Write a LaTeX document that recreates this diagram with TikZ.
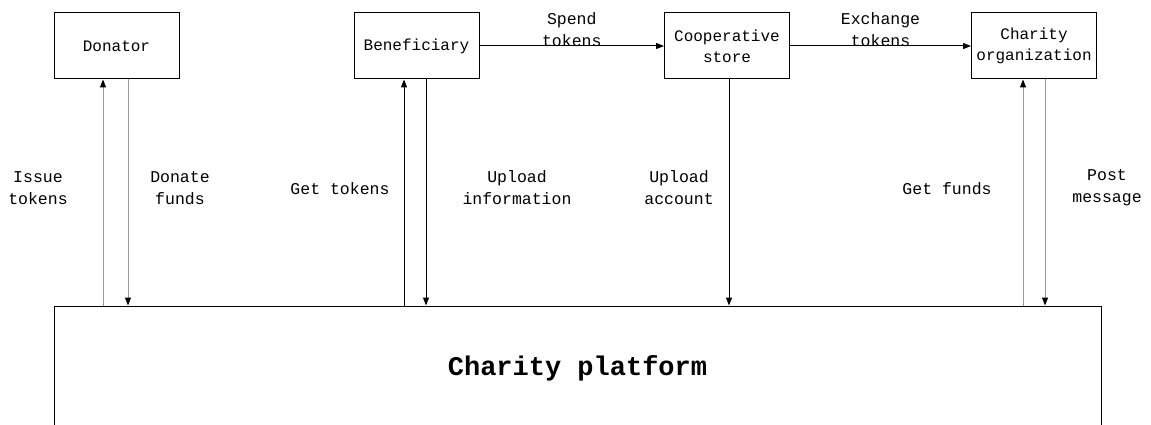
\documentclass[tikz,border=0pt]{standalone}
\usepackage{fontspec}
\setmainfont{Liberation Mono}
\usetikzlibrary{arrows.meta,positioning}

\tikzset{
  box/.style={draw, line width=1pt, minimum width=125pt, minimum height=66pt,
    align=center, inner sep=2pt, font=\fontsize{16}{21}\selectfont},
  lbl/.style={align=center, font=\fontsize{16.5}{22}\selectfont},
  flow/.style={line width=1pt, -{Triangle[length=8pt,width=6pt]}},
  greyflow/.style={flow, draw=black!40, -{Triangle[length=8pt,width=6pt,black]}},
}

\begin{document}
\begin{tikzpicture}[x=1pt,y=-1pt]
\clip (0,0) rectangle (1151,425);

% parties
\node[box] (donor) at (116.5,46) {Donator};
\node[box] (benef) at (416.5,46) {Beneficiary};
\node[box] (coop) at (727,46) {Cooperative\\store};
\node[box] (org) at (1034,46) {Charity\\organization};

% platform, cut off at the bottom
\node[draw, line width=1pt, minimum width=1047pt, minimum height=124pt,
  font=\bfseries\fontsize{27}{30}\selectfont] (plat) at (577.5,368) {Charity platform};

% token flow
\draw[flow] (benef) -- node[lbl, yshift=16pt] (spend) {Spend\\tokens} (coop);
\draw[flow] (coop) -- node[lbl, yshift=16pt] (exch) {Exchange\\tokens} (org);

% feet of the vertical links
\coordinate (donorUp) at ([xshift=-13.5pt]donor.south);
\coordinate (donorDn) at ([xshift=11.5pt]donor.south);
\coordinate (benefUp) at ([xshift=-12.5pt]benef.south);
\coordinate (benefDn) at ([xshift=9.5pt]benef.south);
\coordinate (coopDn) at ([xshift=2pt]coop.south);
\coordinate (orgUp) at ([xshift=-11pt]org.south);
\coordinate (orgDn) at ([xshift=11pt]org.south);

\draw[greyflow] (donorUp |- plat.north) -- (donorUp);
\draw[greyflow] (donorDn) -- (donorDn |- plat.north);
\draw[flow] (benefUp |- plat.north) -- (benefUp);
\draw[flow] (benefDn) -- (benefDn |- plat.north);
\draw[flow] (coopDn) -- (coopDn |- plat.north);
\draw[greyflow] (orgUp |- plat.north) -- (orgUp);
\draw[greyflow] (orgDn) -- (orgDn |- plat.north);

% labels of the vertical links
\node[lbl] (issue) at (38,188) {Issue\\tokens};
\node[lbl] (donate) at (180,188) {Donate\\funds};
\node[lbl] (gettok) at (340,189) {Get tokens};
\node[lbl] (upinfo) at (517,188) {Upload\\information};
\node[lbl] (upacc) at (679,188) {Upload\\account};
\node[lbl] (getfund) at (947,189) {Get funds};
\node[lbl] (post) at (1107,188) {Post\\message};
\end{tikzpicture}
\end{document}
